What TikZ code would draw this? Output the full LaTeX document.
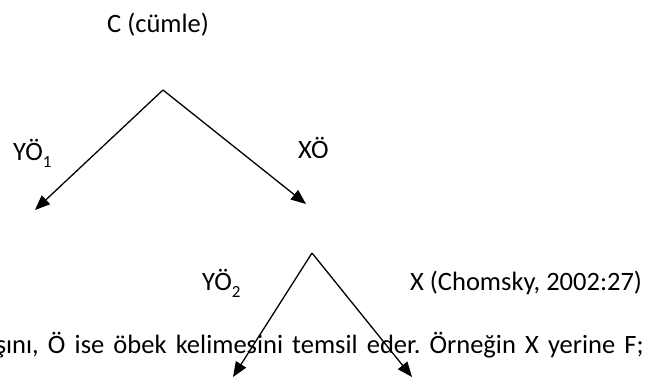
\documentclass[tikz,border=0pt]{standalone}
\usepackage{fontspec}
\setmainfont{Carlito}
\usepackage{tikz}
\usetikzlibrary{arrows.meta}

\newcommand{\lowidx}[1]{\raisebox{-0.28em}{\fontsize{17}{17}\selectfont #1}}

\begin{document}
\frenchspacing
\begin{tikzpicture}[x=1pt, y=-1pt,
        lbl/.style = {font=\fontsize{26.5}{30}\selectfont, inner sep=0pt, anchor=base west},
        branch/.style = {line width=1.3pt, -{Triangle[length=15pt, width=12pt]}}]
                \useasboundingbox (0,0) rectangle (646,376);
                \clip (0,0) rectangle (646,376);

                % upper tree
                \coordinate (C) at (163, 90);
                \coordinate (YO1) at (35, 210);
                \coordinate (XO) at (306, 204);
                % lower tree
                \coordinate (X) at (312, 253);
                \coordinate (L) at (233, 377);
                \coordinate (R) at (412, 377);

                \node[lbl] at (107, 32) (cl) {C (cümle)};
                \node[lbl] at (13, 160) (yo1) {YÖ\lowidx{1}};
                \node[lbl] at (298, 158) (xo) {XÖ};
                \node[lbl] at (202, 290) (yo2) {YÖ\lowidx{2}};
                \node[lbl] at (410, 290) (ref) {X (Chomsky, 2002:27)};
                % justified body line, running off the left edge
                \node[lbl, anchor=base east] at (644, 353) (txt)
                    {\makebox[648pt][s]{şını, Ö ise öbek kelimesini temsil eder. Örneğin X yerine F;}};

                \draw [branch] (C) -- (YO1);
                \draw [branch] (C) -- (XO);
                \draw [branch] (X) -- (L);
                \draw [branch] (X) -- (R);
\end{tikzpicture}
\end{document}
